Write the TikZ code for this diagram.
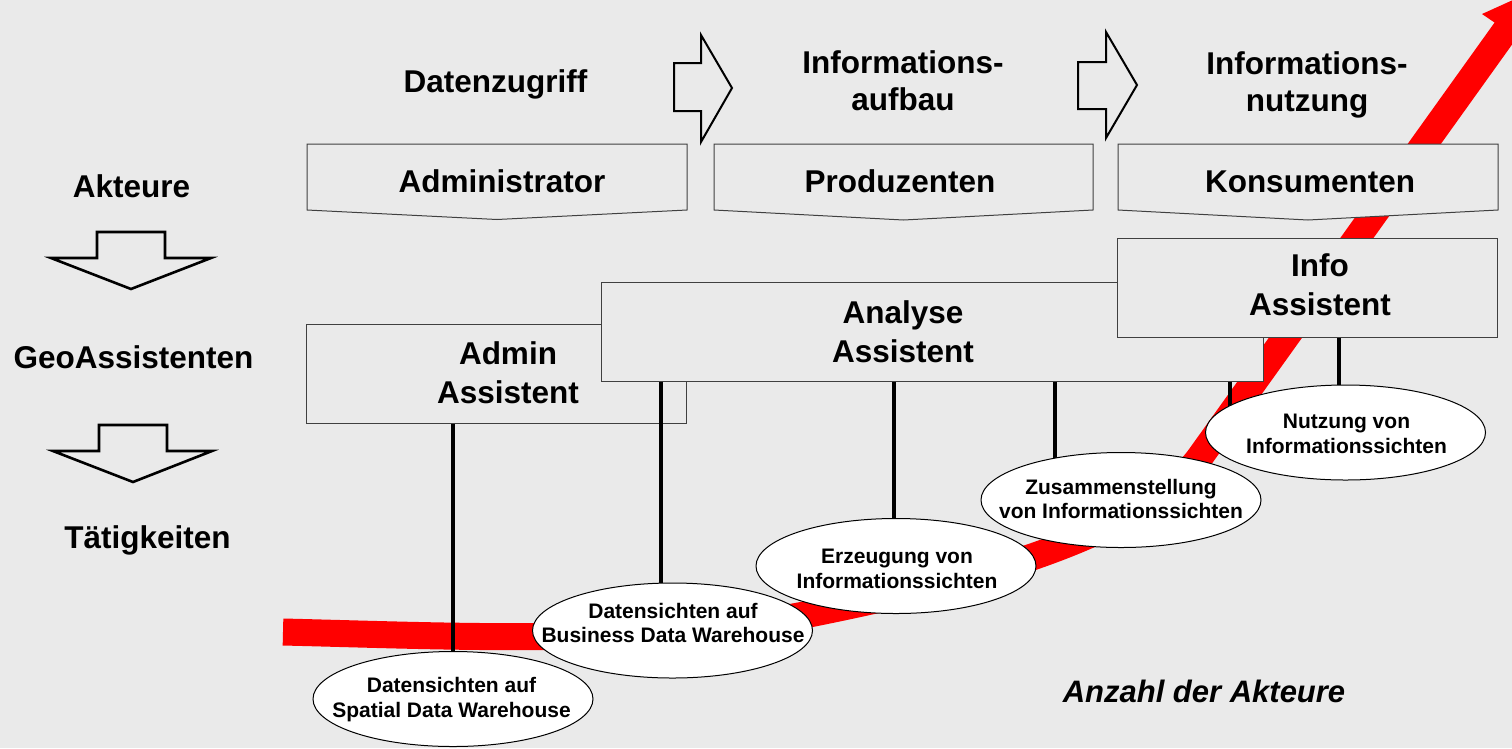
\documentclass[tikz,border=0pt]{standalone}
\usepackage{fontspec}
\setmainfont{Liberation Sans}
\usetikzlibrary{shapes.geometric}
\definecolor{bg}{RGB}{234,234,234}
\definecolor{boxline}{RGB}{64,64,64}
\definecolor{bandred}{RGB}{255,0,0}
\begin{document}
\begin{tikzpicture}[x=1pt,y=-1pt,
  bigtxt/.style={font=\fontsize{31.5}{37}\selectfont\bfseries, anchor=base, inner sep=0pt},
  smalltxt/.style={font=\fontsize{21}{25}\selectfont\bfseries, anchor=base, inner sep=0pt},
  assist/.style={draw=boxline, fill=bg, line width=1pt, inner sep=0pt, minimum height=99pt},
  activity/.style={ellipse, draw=black, fill=white, line width=1pt, inner sep=0pt, minimum width=280pt, minimum height=95pt},
  toparrow/.style={draw=black, fill=bg, line width=2pt, line join=miter},
  downarrow/.style={draw=black, fill=bg, line width=2.6pt, line join=miter},
  rolebox/.style={draw=boxline, fill=bg, line width=1pt},
  link/.style={draw=black, line width=4.2pt},
]
\useasboundingbox (0,0) rectangle (1512,748);
\fill[bg] (0,0) rectangle (1512,748);

% red band (number of actors)
\begin{scope}
  \clip (0,0) rectangle (1512,748);
  \draw[bandred, line width=27pt] (283,632) .. controls (450,636) and (650,646) .. (809,614)
        .. controls (959,584) and (1141.5,538) .. (1200,457) -- (1508,27);
  \fill[bandred] (1482,14) -- (1529,46) -- (1535,-10) -- cycle;
\end{scope}

% top process arrows
\draw[toparrow] (674,63) -- (701,63) -- (701,35) -- (732,88) -- (701,142) -- (701,111) -- (674,111) -- cycle;
\draw[toparrow] (1078,62) -- (1106,62) -- (1106,32) -- (1137,85) -- (1106,138) -- (1106,109) -- (1078,109) -- cycle;

% left down arrows
\draw[downarrow] (97,232) -- (165,232) -- (165,258) -- (211,258) -- (131,289) -- (51,258) -- (97,258) -- cycle;
\draw[downarrow] (99,425) -- (167,425) -- (167,451) -- (212,451) -- (133,482) -- (53,451) -- (99,451) -- cycle;

% role boxes
\draw[rolebox] (307,144) -- (687,144) -- (687,210) -- (497,219.5) -- (307,210) -- cycle;
\draw[rolebox] (714,144) -- (1093,144) -- (1093,210) -- (903.5,220) -- (714,210) -- cycle;
\draw[rolebox] (1118,144) -- (1498,144) -- (1498,210) -- (1308,220) -- (1118,210) -- cycle;

% assistant boxes
\node[assist, minimum width=380pt] (admin) at (496,373.5) {};
\node[assist, minimum width=662pt] (analyse) at (932,331.5) {};
\node[assist, minimum width=380pt] (info) at (1307,287.5) {};

% activity ellipses (positions)
\coordinate (e1c) at (453,699);
\coordinate (e2c) at (672.5,630.5);
\coordinate (e3c) at (896,566);
\coordinate (e4c) at (1121,500);
\coordinate (e5c) at (1345.5,432.5);

% connectors
\draw[link] (e1c |- admin.south) -- (e1c);
\draw[link] ([xshift=-11.5pt]e2c |- analyse.south) -- ([xshift=-11.5pt]e2c);
\draw[link] ([xshift=-2pt]e3c |- analyse.south) -- ([xshift=-2pt]e3c);
\draw[link] ([xshift=-66pt]e4c |- analyse.south) -- ([xshift=-66pt]e4c);
\draw[link] ([xshift=-115.5pt]e5c |- analyse.south) -- ([xshift=-115.5pt]e5c);
\draw[link] ([xshift=-6.5pt]e5c |- info.south) -- ([xshift=-6.5pt]e5c);

% ellipses
\node[activity] (e1) at (e1c) {};
\node[activity] (e2) at (e2c) {};
\node[activity] (e3) at (e3c) {};
\node[activity] (e4) at (e4c) {};
\node[activity] (e5) at (e5c) {};

% top texts
\node[bigtxt] (t1) at (495.5,92) {Datenzugriff};
\node[bigtxt] (t2a) at (903,73) {Informations-};
\node[bigtxt] (t2b) at (903,110) {aufbau};
\node[bigtxt] (t3a) at (1307,74) {Informations-};
\node[bigtxt] (t3b) at (1307,111) {nutzung};

% role texts
\node[bigtxt] (r1) at (502,192) {Administrator};
\node[bigtxt] (r2) at (900,192) {Produzenten};
\node[bigtxt] (r3) at (1310,192) {Konsumenten};

% left texts
\node[bigtxt] (l1) at (131.5,197) {Akteure};
\node[bigtxt] (l2) at (133.5,368) {GeoAssistenten};
\node[bigtxt] (l3) at (147.5,548) {Tätigkeiten};

% assistant texts
\node[bigtxt] (a1a) at (508,364) {Admin};
\node[bigtxt] (a1b) at (508,403) {Assistent};
\node[bigtxt] (a2a) at (903,323) {Analyse};
\node[bigtxt] (a2b) at (903,362) {Assistent};
\node[bigtxt] (a3a) at (1320,276) {Info};
\node[bigtxt] (a3b) at (1320,315) {Assistent};

% ellipse texts
\node[smalltxt] (x1a) at (451.5,692) {Datensichten auf};
\node[smalltxt] (x1b) at (451.5,717) {Spatial Data Warehouse};
\node[smalltxt] (x2a) at (673,618) {Datensichten auf};
\node[smalltxt] (x2b) at (673,642) {Business Data Warehouse};
\node[smalltxt] (x3a) at (897,563) {Erzeugung von};
\node[smalltxt] (x3b) at (897,588) {Informationssichten};
\node[smalltxt] (x4a) at (1121,494) {Zusammenstellung};
\node[smalltxt] (x4b) at (1121,518) {von Informationssichten};
\node[smalltxt] (x5a) at (1346.5,428) {Nutzung von};
\node[smalltxt] (x5b) at (1346.5,453) {Informationssichten};

% axis label
\node[bigtxt, font=\fontsize{31}{37}\selectfont\bfseries\itshape] (axis) at (1204,702) {Anzahl der Akteure};
\end{tikzpicture}
\end{document}
